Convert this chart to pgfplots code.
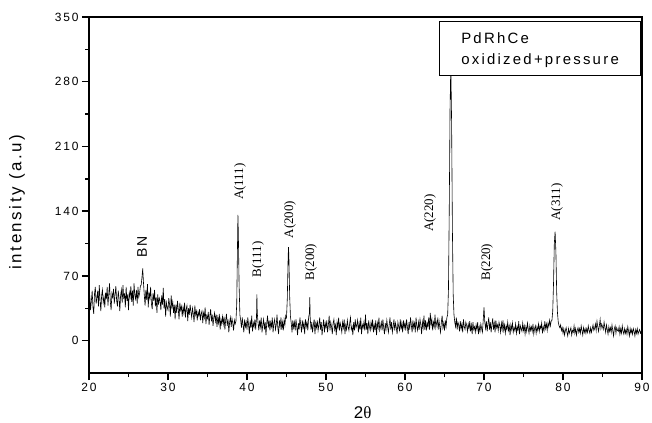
\documentclass[border=0pt]{standalone}
\usepackage{fontspec}
\setmainfont{Liberation Sans}[LetterSpace=15]
\newfontfamily\peakfont{Liberation Serif}
\usepackage{pgfplots}
\pgfplotsset{compat=1.18}

\begin{document}
\begin{tikzpicture}
\begin{axis}[
    scale only axis,
    width=553bp, height=356bp,
    xmin=20, xmax=90, ymin=-35, ymax=350,
    xtick={20,30,...,90}, ytick={0,70,...,350},
    minor x tick num=1, minor y tick num=1,
    xtick pos=bottom, ytick pos=left,
    tick align=outside,
    major tick length=7bp, minor tick length=4bp,
    axis line style={line width=1.4bp},
    every tick/.style={line width=1.4bp, black},
    ticklabel style={font=\fontsize{12}{13}\selectfont},
    /pgf/number format/assume math mode=true,
    xlabel={2{\peakfont θ}},
    ylabel={intensity (a.u)},
    xlabel style={at={(axis description cs:0.495,0)}, yshift=-40bp, anchor=center, font=\fontsize{17}{18}\selectfont},
    ylabel style={at={(axis description cs:-0.130,0.48)}, anchor=center, font=\fontsize{17}{18}\selectfont},
]
\addplot[black, line width=0.6bp] coordinates {
(20.0,38) (20.1,49) (20.2,33) (20.3,43) (20.4,54) (20.5,36) (20.6,29) (20.7,51) (20.8,58) (20.9,40)
(21.0,46) (21.1,54) (21.2,37) (21.3,60) (21.4,43) (21.5,32) (21.6,49) (21.7,55) (21.8,41) (21.9,47)
(22.0,36) (22.1,52) (22.2,45) (22.3,58) (22.4,38) (22.5,50) (22.6,62) (22.7,42) (22.8,33) (22.9,51)
(23.0,47) (23.1,56) (23.2,40) (23.3,50) (23.4,59) (23.5,43) (23.6,37) (23.7,54) (23.8,46) (23.9,32)
(24.0,49) (24.1,55) (24.2,41) (24.3,60) (24.4,45) (24.5,51) (24.6,36) (24.7,58) (24.8,43) (24.9,50)
(25.0,33) (25.1,52) (25.2,47) (25.3,59) (25.4,42) (25.5,54) (25.6,38) (25.7,62) (25.8,49) (25.9,45)
(26.0,55) (26.1,40) (26.2,58) (26.3,47) (26.4,51) (26.5,59) (26.6,60) (26.7,68) (26.8,78) (26.9,62)
(27.0,49) (27.1,38) (27.2,55) (27.3,44) (27.4,61) (27.5,36) (27.6,52) (27.7,46) (27.8,58) (27.9,40)
(28.0,34) (28.1,51) (28.2,43) (28.3,55) (28.4,37) (28.5,47) (28.6,30) (28.7,50) (28.8,39) (28.9,46)
(29.0,43) (29.1,33) (29.2,49) (29.3,39) (29.4,57) (29.5,35) (29.6,45) (29.7,26) (29.8,41) (29.9,36)
(30.0,33) (30.1,46) (30.2,39) (30.3,26) (30.4,49) (30.5,36) (30.6,42) (30.7,30) (30.8,39) (30.9,23)
(31.0,39) (31.1,30) (31.2,43) (31.3,34) (31.4,23) (31.5,41) (31.6,33) (31.7,37) (31.8,26) (31.9,36)
(32.0,30) (32.1,41) (32.2,25) (32.3,34) (32.4,38) (32.5,21) (32.6,35) (32.7,28) (32.8,39) (32.9,31)
(33.0,25) (33.1,35) (33.2,29) (33.3,20) (33.4,38) (33.5,28) (33.6,32) (33.7,22) (33.8,31) (33.9,27)
(34.0,34) (34.1,22) (34.2,29) (34.3,32) (34.4,19) (34.5,30) (34.6,25) (34.7,36) (34.8,18) (34.9,27)
(35.0,24) (35.1,31) (35.2,17) (35.3,27) (35.4,34) (35.5,21) (35.6,28) (35.7,16) (35.8,25) (35.9,30)
(36.0,21) (36.1,28) (36.2,15) (36.3,25) (36.4,19) (36.5,29) (36.6,12) (36.7,23) (36.8,18) (36.9,26)
(37.0,18) (37.1,26) (37.2,12) (37.3,22) (37.4,29) (37.5,16) (37.6,23) (37.7,9) (37.8,20) (37.9,25)
(38.0,15) (38.1,24) (38.2,19) (38.3,11) (38.4,22) (38.5,18) (38.6,21) (38.7,40) (38.8,105) (38.85,136)
(38.9,118) (39.0,60) (39.1,28) (39.2,22) (39.3,14) (39.4,25) (39.5,17) (39.6,9) (39.7,23) (39.8,15) (39.9,20)
(40.0,12) (40.1,25) (40.2,17) (40.3,7) (40.4,22) (40.5,14) (40.6,27) (40.7,10) (40.8,19) (40.9,15)
(41.0,23) (41.1,12) (41.2,25) (41.25,50) (41.3,30) (41.4,19) (41.5,11) (41.6,22) (41.7,15) (41.8,25) (41.9,9)
(42.0,17) (42.1,23) (42.2,12) (42.3,20) (42.4,6) (42.5,19) (42.6,27) (42.7,14) (42.8,22) (42.9,11)
(43.0,20) (43.1,15) (43.2,25) (43.3,9) (43.4,19) (43.5,23) (43.6,12) (43.7,17) (43.8,28) (43.9,14)
(44.0,7) (44.1,22) (44.2,15) (44.3,25) (44.4,12) (44.5,20) (44.6,11) (44.7,23) (44.8,17) (44.9,27)
(45.0,25) (45.1,45) (45.2,88) (45.25,101) (45.3,92) (45.4,48) (45.5,26) (45.6,19) (45.7,9) (45.8,22) (45.9,14)
(46.0,20) (46.1,11) (46.2,23) (46.3,15) (46.4,6) (46.5,19) (46.6,12) (46.7,25) (46.8,17) (46.9,9)
(47.0,22) (47.1,14) (47.2,19) (47.3,7) (47.4,23) (47.5,15) (47.6,20) (47.7,11) (47.8,25) (47.9,30) (47.95,47)
(48.0,25) (48.1,12) (48.2,20) (48.3,9) (48.4,17) (48.5,23) (48.6,7) (48.7,19) (48.8,14) (48.9,22)
(49.0,11) (49.1,17) (49.2,25) (49.3,12) (49.4,20) (49.5,6) (49.6,15) (49.7,23) (49.8,9) (49.9,19)
(50.0,14) (50.1,22) (50.2,9) (50.3,17) (50.4,27) (50.5,11) (50.6,20) (50.7,15) (50.8,7) (50.9,19)
(51.0,23) (51.1,12) (51.2,17) (51.3,6) (51.4,20) (51.5,14) (51.6,25) (51.7,11) (51.8,19) (51.9,15)
(52.0,9) (52.1,20) (52.2,14) (52.3,23) (52.4,7) (52.5,17) (52.6,12) (52.7,22) (52.8,15) (52.9,11)
(53.0,19) (53.1,25) (53.2,12) (53.3,15) (53.4,6) (53.5,20) (53.6,11) (53.7,23) (53.8,14) (53.9,17)
(54.0,22) (54.1,9) (54.2,19) (54.3,12) (54.4,25) (54.5,7) (54.6,17) (54.7,14) (54.8,20) (54.9,11)
(55.0,28) (55.1,12) (55.2,19) (55.3,7) (55.4,22) (55.5,15) (55.6,11) (55.7,20) (55.8,14) (55.9,23)
(56.0,9) (56.1,17) (56.2,12) (56.3,22) (56.4,6) (56.5,19) (56.6,14) (56.7,25) (56.8,11) (56.9,15)
(57.0,20) (57.1,11) (57.2,23) (57.3,14) (57.4,7) (57.5,19) (57.6,12) (57.7,22) (57.8,15) (57.9,9)
(58.0,17) (58.1,25) (58.2,12) (58.3,20) (58.4,9) (58.5,15) (58.6,23) (58.7,11) (58.8,19) (58.9,14)
(59.0,7) (59.1,20) (59.2,15) (59.3,11) (59.4,23) (59.5,12) (59.6,19) (59.7,9) (59.8,22) (59.9,14)
(60.0,19) (60.1,11) (60.2,23) (60.3,15) (60.4,7) (60.5,20) (60.6,12) (60.7,25) (60.8,17) (60.9,9)
(61.0,22) (61.1,14) (61.2,19) (61.3,9) (61.4,25) (61.5,15) (61.6,11) (61.7,20) (61.8,12) (61.9,23)
(62.0,17) (62.1,7) (62.2,20) (62.3,14) (62.4,27) (62.5,12) (62.6,22) (62.7,11) (62.8,19) (62.9,15)
(63.0,25) (63.1,12) (63.2,30) (63.3,17) (63.4,23) (63.5,11) (63.6,20) (63.7,15) (63.8,28) (63.9,14)
(64.0,19) (64.1,23) (64.2,12) (64.3,22) (64.4,15) (64.5,9) (64.6,20) (64.7,27) (64.8,14) (64.9,19)
(65.0,11) (65.1,22) (65.2,15) (65.3,25) (65.4,28) (65.5,55) (65.6,140) (65.7,250) (65.8,300) (65.9,235)
(66.0,120) (66.1,50) (66.2,28) (66.3,20) (66.4,15) (66.5,25) (66.6,12) (66.7,20) (66.8,17) (66.9,10)
(67.0,21) (67.1,13) (67.2,18) (67.3,9) (67.4,23) (67.5,15) (67.6,12) (67.7,20) (67.8,17) (67.9,10)
(68.0,18) (68.1,13) (68.2,21) (68.3,10) (68.4,17) (68.5,7) (68.6,20) (68.7,12) (68.8,15) (68.9,9)
(69.0,17) (69.1,12) (69.2,20) (69.3,7) (69.4,15) (69.5,10) (69.6,18) (69.7,13) (69.8,9) (69.9,22)
(70.0,36) (70.1,20) (70.2,13) (70.3,21) (70.4,10) (70.5,18) (70.6,25) (70.7,12) (70.8,20) (70.9,9)
(71.0,17) (71.1,24) (71.2,12) (71.3,19) (71.4,9) (71.5,22) (71.6,14) (71.7,17) (71.8,11) (71.9,20)
(72.0,16) (72.1,9) (72.2,19) (72.3,12) (72.4,22) (72.5,11) (72.6,17) (72.7,8) (72.8,16) (72.9,12)
(73.0,20) (73.1,11) (73.2,16) (73.3,6) (73.4,17) (73.5,12) (73.6,19) (73.7,9) (73.8,14) (73.9,11)
(74.0,18) (74.1,8) (74.2,15) (74.3,11) (74.4,21) (74.5,7) (74.6,16) (74.7,13) (74.8,10) (74.9,19)
(75.0,11) (75.1,16) (75.2,7) (75.3,15) (75.4,10) (75.5,19) (75.6,13) (75.7,8) (75.8,16) (75.9,11)
(76.0,15) (76.1,10) (76.2,18) (76.3,7) (76.4,13) (76.5,16) (76.6,8) (76.7,15) (76.8,11) (76.9,18)
(77.0,10) (77.1,16) (77.2,13) (77.3,19) (77.4,8) (77.5,15) (77.6,11) (77.7,21) (77.8,13) (77.9,18)
(78.0,11) (78.1,19) (78.2,15) (78.3,22) (78.4,16) (78.5,21) (78.6,22) (78.7,32) (78.8,62) (78.9,105)
(79.0,118) (79.1,96) (79.2,52) (79.3,30) (79.4,20) (79.5,16) (79.6,14) (79.7,17) (79.8,11) (79.9,14)
(80.0,8) (80.1,13) (80.2,6) (80.3,11) (80.4,14) (80.5,9) (80.6,5) (80.7,13) (80.8,8) (80.9,11)
(81.0,14) (81.1,6) (81.2,11) (81.3,9) (81.4,16) (81.5,8) (81.6,13) (81.7,6) (81.8,11) (81.9,14)
(82.0,9) (82.1,13) (82.2,8) (82.3,16) (82.4,11) (82.5,6) (82.6,14) (82.7,9) (82.8,13) (82.9,8)
(83.0,13) (83.1,9) (83.2,16) (83.3,11) (83.4,8) (83.5,14) (83.6,9) (83.7,13) (83.8,17) (83.9,11)
(84.0,13) (84.1,18) (84.2,11) (84.3,21) (84.4,15) (84.5,10) (84.6,16) (84.7,23) (84.8,13) (84.9,18)
(85.0,15) (85.1,12) (85.2,20) (85.3,14) (85.4,9) (85.5,17) (85.6,12) (85.7,7) (85.8,15) (85.9,10)
(86.0,14) (86.1,9) (86.2,17) (86.3,11) (86.4,5) (86.5,13) (86.6,16) (86.7,8) (86.8,14) (86.9,11)
(87.0,10) (87.1,15) (87.2,7) (87.3,13) (87.4,8) (87.5,16) (87.6,10) (87.7,7) (87.8,13) (87.9,8)
(88.0,12) (88.1,7) (88.2,15) (88.3,10) (88.4,5) (88.5,13) (88.6,8) (88.7,12) (88.8,7) (88.9,13)
(89.0,10) (89.1,5) (89.2,12) (89.3,8) (89.4,13) (89.5,7) (89.6,10) (89.7,12) (89.8,8) (89.9,10) (90.0,8)
};
% peak labels
\begin{scope}[every node/.style={rotate=90, inner sep=0pt, font=\peakfont\fontsize{13}{13}\selectfont}]
\node at (axis cs:39.11,172) {A(111)};
\node at (axis cs:41.39,88) {B(111)};
\node at (axis cs:45.44,131) {A(200)};
\node at (axis cs:48.10,85) {B(200)};
\node at (axis cs:63.16,138) {A(220)};
\node at (axis cs:70.38,85) {B(220)};
\node at (axis cs:79.24,150) {A(311)};
\end{scope}
\node[rotate=90, inner sep=0pt, font=\fontsize{14}{14}\selectfont] at (axis cs:26.71,101) {BN};
% sample box
\draw[fill=white, line width=0.8bp] (axis cs:64.3,287) rectangle (axis cs:89.75,345.5);
\node[anchor=base west, inner sep=0pt, font=\fontsize{15}{16}\selectfont] at (axis cs:67.1,321.8) {PdRhCe};
\node[anchor=base west, inner sep=0pt, font=\fontsize{15}{16}\selectfont] at (axis cs:67.1,299) {oxidized+pressure};
\end{axis}
\pgfresetboundingbox
\path ([shift={(-89bp,-49bp)}]current axis.south west) rectangle ([shift={(10bp,17bp)}]current axis.north east);
\end{tikzpicture}
\end{document}
